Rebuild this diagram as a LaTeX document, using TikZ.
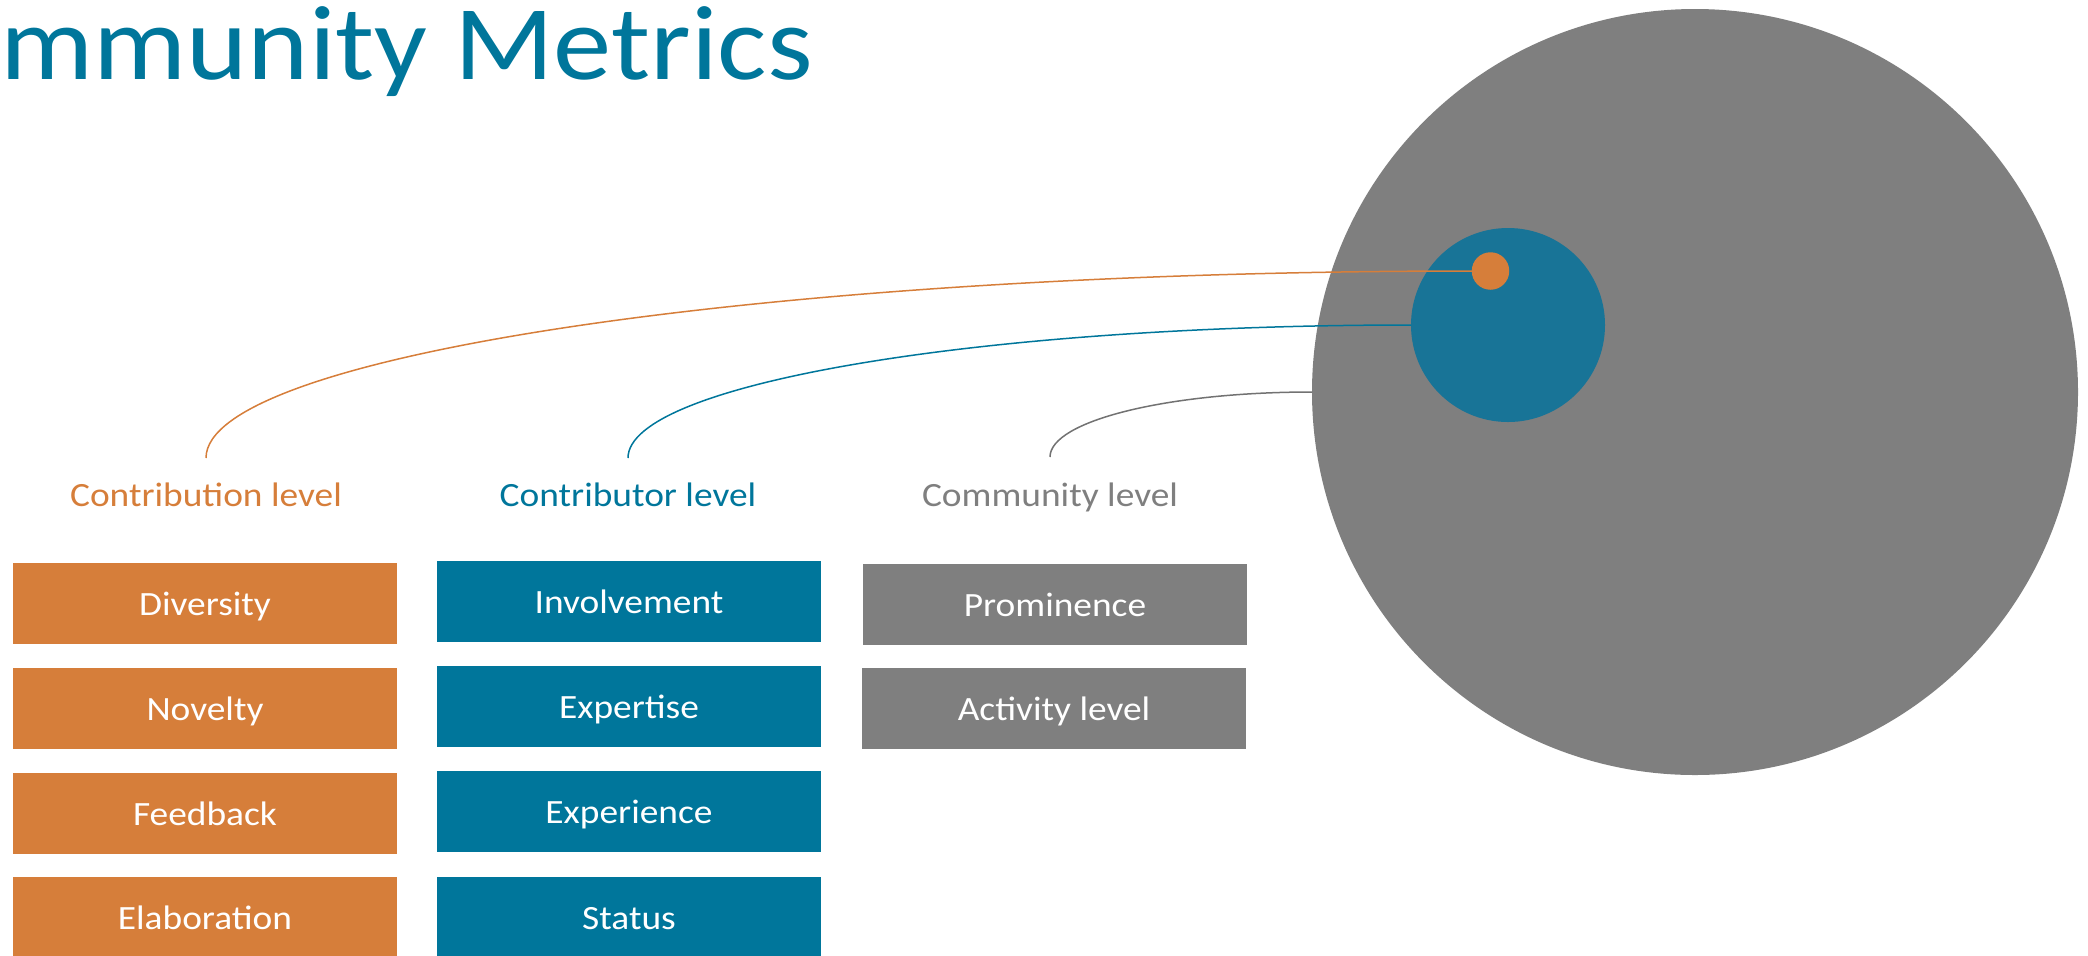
\documentclass[tikz,border=0pt]{standalone}
\usepackage{fontspec}
\setmainfont{Carlito}[FakeStretch=1.1]
\definecolor{corange}{RGB}{214,126,58}
\definecolor{cteal}{RGB}{0,118,155}
\definecolor{cblue}{RGB}{24,116,151}
\definecolor{cgray}{RGB}{127,127,127}
\begin{document}
\begin{tikzpicture}[x=0.5pt,y=-0.5pt,
  box/.style={rectangle, minimum width=192pt, minimum height=40.5pt, inner sep=0pt, outer sep=0pt,
    text=white, text height=12.2pt, text depth=0pt, font=\fontsize{17}{20}\selectfont},
  obox/.style={box, fill=corange},
  tbox/.style={box, fill=cteal},
  gbox/.style={box, fill=cgray},
  lbl/.style={anchor=base, inner sep=0pt, font=\fontsize{17}{20}\selectfont},
  disc/.style={circle, inner sep=0pt, outer sep=0pt, draw=none},
  conn/.style={line width=0.75pt}]
\useasboundingbox (0,0) rectangle (2088,955);

% title
\node[anchor=base west, inner sep=0pt, text=cteal, font=\fontsize{53}{60}\selectfont] (title) at (0,79) {mmunity Metrics};

% circles
\node[disc, fill=cgray, minimum size=383pt] (big) at (1695,392) {};
\node[disc, fill=cblue, minimum size=97pt] (mid) at (1508,325) {};
\node[disc, fill=corange, minimum size=18.75pt] (dot) at (1490.5,271) {};

% level labels
\node[lbl, text=corange] (l1) at (206,506) {Contribution level};
\node[lbl, text=cteal] (l2) at (628,506) {Contributor level};
\node[lbl, text=cgray] (l3) at (1050,506) {Community level};

\coordinate (s1) at (206,458);
\coordinate (s2) at (628,458);
\coordinate (s3) at (1050,457);

% connectors
\draw[conn, corange] (s1) .. controls +(0,-103) and +(-699,0) .. (dot.west);
\draw[conn, cteal] (s2) .. controls +(0,-74) and +(-432,0) .. (mid.west);
\draw[conn, cgray!90!black] (s3) .. controls +(0,-36) and +(-145,0) .. (big.west);

% boxes
\node[obox] (b1) at (205,603.5) {Diversity};
\node[obox] (b2) at (205,708) {Novelty};
\node[obox] (b3) at (205,813) {Feedback};
\node[obox] (b4) at (205,917) {Elaboration};

\node[tbox] (c1) at (629,601.5) {Involvement};
\node[tbox] (c2) at (629,706) {Expertise};
\node[tbox] (c3) at (629,811.5) {Experience};
\node[tbox] (c4) at (629,917) {Status};

\node[gbox] (d1) at (1055,604) {Prominence};
\node[gbox] (d2) at (1054,708.5) {Activity level};
\end{tikzpicture}
\end{document}
